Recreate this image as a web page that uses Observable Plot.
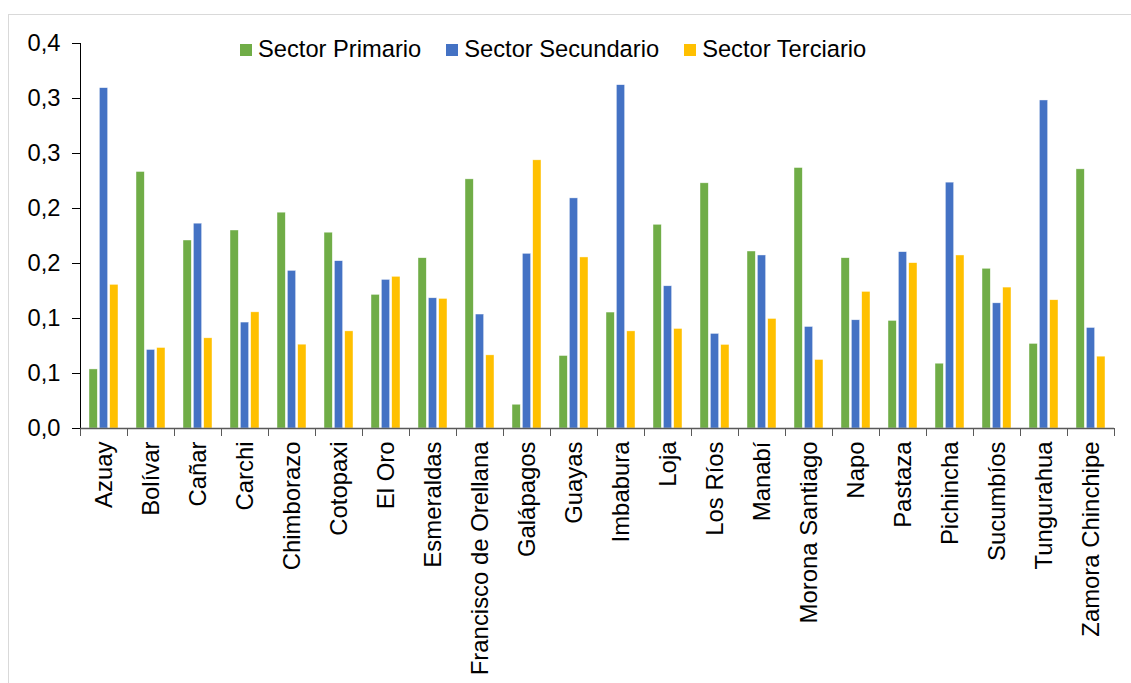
<!DOCTYPE html>
<html><head><meta charset="utf-8">
<script src="https://cdn.jsdelivr.net/npm/d3@7"></script>
<script src="https://cdn.jsdelivr.net/npm/@observablehq/plot@0.6"></script>
<style>
html,body{margin:0;padding:0;background:#fff;overflow:hidden;}
#wrap{position:relative;width:1131px;height:683px;font-family:"Liberation Sans",Arial,sans-serif;}
#border{position:absolute;left:8px;top:14px;right:-10px;bottom:-10px;border-top:1.5px solid #d9d9d9;border-left:1.5px solid #d9d9d9;pointer-events:none;z-index:2;}
#legend{position:absolute;left:240px;top:36px;display:flex;align-items:center;font-size:23.7px;color:#000;line-height:27px;white-space:nowrap;z-index:2;}
.item{display:flex;align-items:center;margin-right:25px;}
.sw{width:12px;height:12px;margin-right:6px;}
#chart{position:absolute;left:0;top:0;}
</style></head><body><div id="wrap"><div id="border"></div><div id="legend"></div><div id="chart"></div></div>
<script>
const provinces = ["Azuay","Bolívar","Cañar","Carchi","Chimborazo","Cotopaxi","El Oro","Esmeraldas","Francisco de Orellana","Galápagos","Guayas","Imbabura","Loja","Los Ríos","Manabí","Morona Santiago","Napo","Pastaza","Pichincha","Sucumbíos","Tungurahua","Zamora Chinchipe"];
const sectors = ["Sector Primario","Sector Secundario","Sector Terciario"];
const primario   = [0.0537,0.2332,0.1709,0.1800,0.1962,0.1780,0.1215,0.1548,0.2265,0.0216,0.0659,0.1054,0.1852,0.2229,0.1609,0.2368,0.1548,0.0978,0.0589,0.1452,0.0769,0.2356];
const secundario = [0.3094,0.0714,0.1862,0.0963,0.1433,0.1521,0.1351,0.1184,0.1036,0.1588,0.2092,0.3121,0.1293,0.0860,0.1573,0.0923,0.0984,0.1603,0.2235,0.1138,0.2982,0.0914];
const terciario  = [0.1306,0.0732,0.0820,0.1056,0.0762,0.0883,0.1379,0.1178,0.0665,0.2438,0.1555,0.0883,0.0905,0.0760,0.0996,0.0623,0.1242,0.1503,0.1573,0.1281,0.1166,0.0653];
const colors = ["#70AD47","#4472C4","#FFC000"];
const yTicks = [0,0.05,0.1,0.15,0.2,0.25,0.3,0.35];
const yTickLabels = ["0,0","0,1","0,1","0,2","0,2","0,3","0,3","0,4"];

const series = [primario, secundario, terciario];
const data = provinces.flatMap((p,i)=> sectors.map((s,j)=>({province:p, sector:s, value: series[j][i]})));

const W=1131, H=683, ml=80, mr=17, mt=43, mb=255;
const step = (W-ml-mr)/provinces.length;

const chart = Plot.plot({
  width: W, height: H, marginLeft: ml, marginRight: mr, marginTop: mt, marginBottom: mb,
  style: {fontFamily: "Liberation Sans, Arial, sans-serif", fontSize: "23.7px", color: "#000", background: "transparent", overflow: "visible"},
  fx: {domain: provinces, padding: 0, round: false, label: null},
  x: {domain: sectors, paddingInner: 0.2, paddingOuter: 0.87, round: false, axis: null},
  y: {domain: [0, 0.35], ticks: yTicks, tickFormat: d => yTickLabels[yTicks.indexOf(d)], tickSize: 8, tickPadding: 12, line: true, label: null},
  color: {domain: sectors, range: colors},
  marks: [
    Plot.barY(data, {fx: "province", x: "sector", y: "value", fill: "sector", stroke: "white", strokeWidth: 0.6, strokeOpacity: 0.7}),
    Plot.ruleY([0], {stroke: "#595959", strokeWidth: 1.5}),
    Plot.axisFx({anchor: "bottom", tickSize: 0, tickPadding: 13, tickRotate: -90, label: null, fontSize: 23.9}),
    Plot.axisFx({anchor: "bottom", tickSize: 8, text: null, label: null, dx: -step/2, stroke: "#595959"}),
    Plot.axisFx({anchor: "bottom", ticks: [provinces[provinces.length-1]], tickSize: 8, text: null, label: null, dx: step/2, stroke: "#595959"})
  ]
});
document.getElementById("chart").appendChild(chart);

const legend = document.getElementById("legend");
sectors.forEach((s,i) => {
  const item = document.createElement("div"); item.className = "item";
  const sw = document.createElement("div"); sw.className = "sw"; sw.style.background = colors[i];
  const t = document.createElement("span"); t.textContent = s;
  item.appendChild(sw); item.appendChild(t); legend.appendChild(item);
});
</script></body></html>
